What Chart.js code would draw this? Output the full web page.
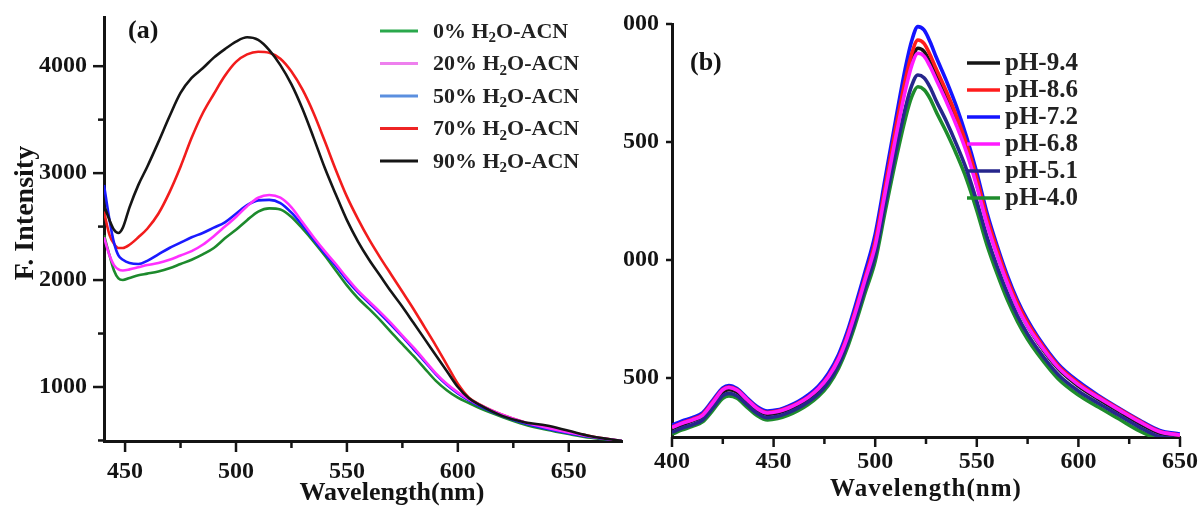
<!DOCTYPE html>
<html>
<head>
<meta charset="utf-8">
<script src="https://cdn.jsdelivr.net/npm/chart.js@4.4.1/dist/chart.umd.min.js"></script>
<style>
  html, body { margin: 0; padding: 0; background: #fff; }
  #wrap { position: relative; width: 1201px; height: 511px; overflow: hidden; background: #fff; }
  #panelA { position: absolute; left: 0; top: 0; }
  #clipB { position: absolute; left: 623px; top: 0; width: 578px; height: 511px; overflow: hidden; }
  #panelB { position: absolute; left: -33px; top: 0; }
</style>
</head>
<body>
<div id="wrap">
  <canvas id="panelA" width="640" height="511"></canvas>
  <div id="clipB"><canvas id="panelB" width="611" height="511"></canvas></div>
</div>
<script>
// (a) emission in H2O-ACN mixtures
const solventLabels = ["0% H\u2082O-ACN", "20% H\u2082O-ACN", "50% H\u2082O-ACN", "70% H\u2082O-ACN", "90% H\u2082O-ACN"];
const wavelengthA = [440.5, 443, 445, 447, 449, 452, 456, 460, 465, 470, 475, 480, 485, 490, 495, 500, 505, 510, 515, 520,
  525, 530, 535, 540, 545, 550, 555, 560, 565, 570, 575, 580, 585, 590, 595, 600, 605, 610, 620, 630, 640, 650, 660, 674];
const water0 = [2420, 2230, 2090, 2015, 2000, 2020, 2045, 2060, 2080, 2110, 2150, 2190, 2240, 2300, 2390, 2470, 2560, 2640, 2670, 2660,
  2590, 2480, 2360, 2230, 2090, 1950, 1830, 1730, 1625, 1510, 1400, 1290, 1175, 1060, 970, 900, 850, 800, 720, 650, 600, 560, 525, 495];
const water20 = [2400, 2230, 2140, 2100, 2090, 2100, 2120, 2140, 2160, 2190, 2230, 2270, 2330, 2410, 2500, 2590, 2690, 2770, 2795, 2770,
  2680, 2540, 2400, 2270, 2150, 2020, 1900, 1800, 1700, 1595, 1480, 1370, 1250, 1130, 1030, 950, 885, 830, 740, 670, 620, 575, 535, 495];
const water50 = [2890, 2560, 2350, 2230, 2190, 2160, 2150, 2180, 2240, 2300, 2350, 2400, 2440, 2490, 2540, 2620, 2700, 2745, 2750, 2720,
  2630, 2510, 2380, 2250, 2130, 2000, 1885, 1785, 1685, 1580, 1470, 1355, 1240, 1120, 1020, 940, 875, 820, 730, 660, 610, 568, 532, 495];
const water70 = [2640, 2420, 2340, 2300, 2300, 2330, 2400, 2480, 2620, 2820, 3060, 3330, 3560, 3740, 3910, 4040, 4110, 4135, 4125, 4070,
  3950, 3780, 3560, 3300, 3030, 2780, 2570, 2380, 2210, 2050, 1890, 1730, 1560, 1390, 1210, 1030, 900, 835, 740, 670, 620, 580, 540, 495];
const water90 = [2700, 2560, 2470, 2440, 2490, 2680, 2890, 3060, 3290, 3530, 3750, 3890, 3980, 4080, 4160, 4230, 4270, 4245, 4150, 4010,
  3830, 3600, 3330, 3050, 2800, 2560, 2360, 2190, 2040, 1890, 1750, 1600, 1450, 1300, 1150, 1000, 895, 830, 730, 670, 640, 590, 540, 495];
const xLabelsA = [450, 500, 550, 600, 650];
const yLabelsA = [1000, 2000, 3000, 4000];

// (b) emission at different pH
const phLabels = ["pH-9.4", "pH-8.6", "pH-7.2", "pH-6.8", "pH-5.1", "pH-4.0"];
const wavelengthB = [400, 405, 410, 415, 420, 425, 428, 432, 437, 442, 447, 452, 457, 462, 467, 472, 477, 482, 486, 490,
  495, 500, 505, 510, 515, 518, 521, 524, 527, 530, 535, 540, 545, 550, 555, 560, 565, 570, 575, 580, 590, 600, 610, 620, 630, 640, 650];
const ph94 = [285, 302, 318, 338, 388, 440, 450, 440, 402, 364, 346, 352, 366, 386, 412, 448, 500, 575, 660, 765,
  910, 1065, 1295, 1525, 1740, 1842, 1897, 1884, 1838, 1780, 1685, 1580, 1465, 1320, 1160, 1025, 905, 802, 720, 652, 540, 466, 410, 358, 308, 266, 254];
const ph86 = [292, 310, 325, 345, 398, 452, 462, 450, 410, 372, 354, 360, 374, 394, 420, 456, 508, 585, 672, 780,
  925, 1080, 1315, 1555, 1770, 1875, 1932, 1918, 1870, 1810, 1715, 1610, 1490, 1345, 1180, 1045, 920, 818, 735, 666, 552, 478, 420, 368, 318, 274, 258];
const ph72 = [300, 318, 332, 352, 405, 458, 468, 455, 415, 378, 360, 365, 380, 400, 428, 465, 520, 600, 690, 800,
  950, 1110, 1350, 1590, 1820, 1930, 1989, 1975, 1925, 1860, 1760, 1650, 1520, 1370, 1200, 1060, 935, 830, 745, 675, 560, 485, 425, 372, 322, 278, 262];
const ph68 = [290, 308, 322, 342, 395, 450, 460, 448, 408, 370, 352, 358, 372, 392, 418, 454, 505, 580, 665, 770,
  915, 1060, 1290, 1515, 1725, 1825, 1876, 1864, 1820, 1765, 1672, 1570, 1455, 1312, 1152, 1020, 902, 800, 720, 655, 545, 472, 416, 365, 315, 272, 258];
const ph51 = [270, 288, 302, 322, 372, 425, 435, 424, 386, 350, 332, 338, 352, 372, 398, 432, 482, 555, 638, 740,
  880, 1020, 1240, 1455, 1650, 1740, 1784, 1772, 1732, 1675, 1588, 1490, 1382, 1248, 1098, 972, 860, 764, 686, 622, 515, 445, 392, 342, 292, 252, 244];
const ph40 = [262, 280, 295, 314, 362, 414, 424, 414, 376, 340, 322, 328, 342, 362, 388, 422, 470, 542, 622, 722,
  860, 995, 1210, 1418, 1605, 1692, 1734, 1722, 1684, 1628, 1542, 1448, 1342, 1210, 1064, 942, 832, 740, 664, 602, 497, 428, 376, 326, 276, 240, 232];
const xLabelsB = [400, 450, 500, 550, 600, 650];
const yLabelsB = [500, 1000, 1500, 2000];

const SERIF = "'Liberation Serif', 'Times New Roman', serif";
const INK = '#141414';

function points(xs, ys) {
  return xs.map((x, i) => ({ x: x, y: ys[i] }));
}

// outward tick marks, long ones where a label is printed
const tickMarks = {
  id: 'tickMarks',
  afterDraw(chart, args, o) {
    const ctx = chart.ctx;
    const sx = chart.scales.x, sy = chart.scales.y;
    ctx.save();
    ctx.strokeStyle = INK;
    ctx.lineWidth = o.width;
    sx.ticks.forEach(t => {
      const px = sx.getPixelForValue(t.value);
      const len = t.label !== '' ? o.xMajor : o.xMinor;
      ctx.beginPath(); ctx.moveTo(px, sx.top); ctx.lineTo(px, sx.top + len); ctx.stroke();
    });
    sy.ticks.forEach(t => {
      const py = sy.getPixelForValue(t.value);
      const len = t.label !== '' ? o.yMajor : o.yMinor;
      ctx.beginPath(); ctx.moveTo(sy.right, py); ctx.lineTo(sy.right - len, py); ctx.stroke();
    });
    ctx.restore();
  }
};

// writes a label, dropping the subscript digit below the line
function drawRich(ctx, text, x, y, size) {
  const parts = text.split('\u2082');
  let cx = x;
  parts.forEach((p, i) => {
    ctx.font = 'bold ' + size + 'px ' + SERIF;
    ctx.fillText(p, cx, y);
    cx += ctx.measureText(p).width;
    if (i < parts.length - 1) {
      ctx.font = 'bold ' + Math.round(size * 0.68) + 'px ' + SERIF;
      ctx.fillText('2', cx, y + size * 0.28);
      cx += ctx.measureText('2').width;
    }
  });
}

const sideLegend = {
  id: 'sideLegend',
  afterDraw(chart, args, o) {
    const ctx = chart.ctx;
    ctx.save();
    ctx.textBaseline = 'middle';
    ctx.fillStyle = '#222';
    chart.data.datasets.forEach((ds, i) => {
      const y = o.top + i * o.step;
      ctx.strokeStyle = o.swatches ? o.swatches[i] : ds.borderColor;
      ctx.lineWidth = o.lineWidth;
      ctx.beginPath(); ctx.moveTo(o.x0, y); ctx.lineTo(o.x1, y); ctx.stroke();
      drawRich(ctx, ds.label, o.textX, y + 1, o.size);
    });
    ctx.restore();
  }
};

const captions = {
  id: 'captions',
  afterDraw(chart, args, o) {
    const ctx = chart.ctx;
    ctx.save();
    ctx.fillStyle = INK;
    o.items.forEach(it => {
      ctx.save();
      ctx.translate(it.x, it.y);
      if (it.rotate) ctx.rotate(it.rotate);
      ctx.font = 'bold ' + it.size + 'px ' + SERIF;
      ctx.textAlign = it.align || 'center';
      ctx.textBaseline = 'alphabetic';
      ctx.letterSpacing = (it.spacing || 0) + 'px';
      ctx.fillText(it.text, 0, 0);
      ctx.restore();
    });
    ctx.restore();
  }
};

function axis(min, max, step, labels, size, pad, box) {
  return {
    type: 'linear',
    min: min,
    max: max,
    // fixed axis box, and no extra room reserved for end labels
    afterFit: s => {
      if (s.isHorizontal()) s.height = box; else s.width = box;
      s.paddingTop = s.paddingBottom = s.paddingLeft = s.paddingRight = 0;
    },
    // ticks on every step multiple inside the range
    afterBuildTicks: s => {
      const out = [];
      for (let v = Math.ceil(s.min / step) * step; v <= s.max + 1e-9; v += step) out.push({ value: v });
      s.ticks = out;
    },
    grid: { display: false, drawTicks: false },
    border: { display: true, color: INK, width: 3 },
    ticks: {
      autoSkip: false,
      maxRotation: 0,
      padding: pad,
      color: INK,
      font: { family: SERIF, weight: 'bold', size: size },
      callback: v => labels.includes(v) ? String(v) : ''
    }
  };
}

function line(label, xs, ys, color, width, order) {
  return {
    label: label,
    data: points(xs, ys),
    borderColor: color,
    borderWidth: width,
    pointRadius: 0,
    fill: false,
    cubicInterpolationMode: 'monotone',
    order: order
  };
}

new Chart(document.getElementById('panelA'), {
  type: 'line',
  data: {
    datasets: [
      line(solventLabels[0], wavelengthA, water0, '#1d8a2c', 2.6, 4),
      line(solventLabels[1], wavelengthA, water20, '#ff30ff', 2.6, 1),
      line(solventLabels[2], wavelengthA, water50, '#1a1aff', 2.6, 2),
      line(solventLabels[3], wavelengthA, water70, '#f21c1c', 2.6, 3),
      line(solventLabels[4], wavelengthA, water90, '#151515', 2.6, 0)
    ]
  },
  options: {
    responsive: false,
    animation: false,
    layout: { padding: { left: 0, top: 17, right: 18, bottom: 0 } },
    scales: {
      x: axis(440.5, 674, 25, xLabelsA, 24, 16, 70),
      y: axis(495, 4460, 500, yLabelsA, 24, 17, 104)
    },
    plugins: {
      legend: { display: false },
      tooltip: { enabled: false },
      tickMarks: { width: 2.5, xMajor: 11, xMinor: 7, yMajor: 11, yMinor: 6 },
      sideLegend: {
        x0: 380, x1: 418, textX: 433, top: 31, step: 32.5, size: 22, lineWidth: 3,
        swatches: ['#2aa84c', '#ee80ee', '#5b8fdf', '#ee2424', '#151515']
      },
      captions: {
        items: [
          { text: '(a)', x: 128, y: 38, size: 26, align: 'left' },
          { text: 'Wavelength(nm)', x: 392, y: 500, size: 26 },
          { text: 'F. Intensity', x: 33, y: 213, size: 28, rotate: -Math.PI / 2 }
        ]
      }
    }
  },
  plugins: [tickMarks, sideLegend, captions]
});

new Chart(document.getElementById('panelB'), {
  type: 'line',
  data: {
    datasets: [
      line(phLabels[0], wavelengthB, ph94, '#151515', 3.6, 3),
      line(phLabels[1], wavelengthB, ph86, '#ff1c1c', 3.6, 1),
      line(phLabels[2], wavelengthB, ph72, '#1414ff', 3.6, 4),
      line(phLabels[3], wavelengthB, ph68, '#ff1aff', 3.6, 0),
      line(phLabels[4], wavelengthB, ph51, '#26268c', 3.6, 2),
      line(phLabels[5], wavelengthB, ph40, '#1e8c2c', 3.6, 5)
    ]
  },
  options: {
    responsive: false,
    animation: false,
    layout: { padding: { left: 0, top: 24, right: 21, bottom: 0 } },
    scales: {
      x: axis(400, 650, 25, xLabelsB, 24, 10, 74),
      y: axis(250, 2000, 500, yLabelsB, 24, 13, 82)
    },
    plugins: {
      legend: { display: false },
      tooltip: { enabled: false },
      tickMarks: { width: 2.5, xMajor: 10, xMinor: 7, yMajor: 6, yMinor: 6 },
      sideLegend: { x0: 377, x1: 410, textX: 415, top: 63, step: 27, size: 25, lineWidth: 3.5 },
      captions: {
        items: [
          { text: '(b)', x: 100, y: 70, size: 26, align: 'left' },
          { text: 'Wavelength(nm)', x: 336, y: 496, size: 25, spacing: 1 }
        ]
      }
    }
  },
  plugins: [tickMarks, sideLegend, captions]
});
</script>
</body>
</html>
